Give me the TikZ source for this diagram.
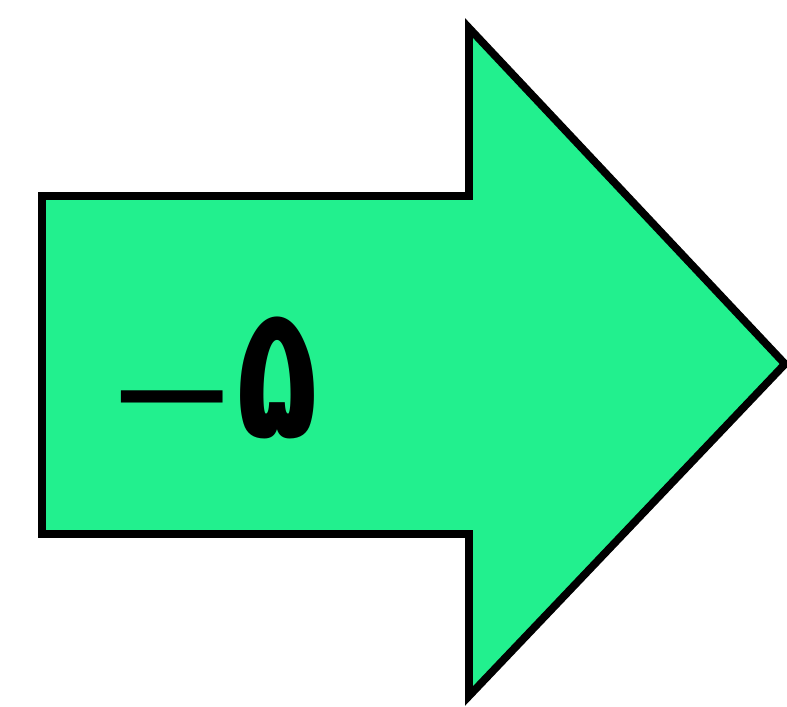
\documentclass[tikz,border=0pt]{standalone}
\usepackage{fontspec}
\TeXXeTstate=1
\newfontfamily\arabicfont[Script=Arabic]{DejaVu Sans}
\definecolor{arrowgreen}{RGB}{34,240,142}
\tikzset{
  bigarrow/.style={fill=arrowgreen, draw=black, line width=2.2pt, line join=miter},
  label/.style={font=\arabicfont\bfseries\fontsize{46}{50}\selectfont, inner sep=0pt}
}
\begin{document}
\begin{tikzpicture}[x=0.01cm,y=-0.01cm]
\useasboundingbox (0,0) rectangle (787,707);
\fill[white] (0,0) rectangle (787,707);
\draw[bigarrow] (42,196) -- (469,196) -- (469,28) -- (785,364) -- (469,696) -- (469,534) -- (42,534) -- cycle;
\node[label, xscale=0.83, yscale=1.16] (num) at (277,378) {\beginR ۵\endR};
\node[label, xscale=1.6, yscale=0.6] (dash) at (172,407) {–};
\end{tikzpicture}
\end{document}
